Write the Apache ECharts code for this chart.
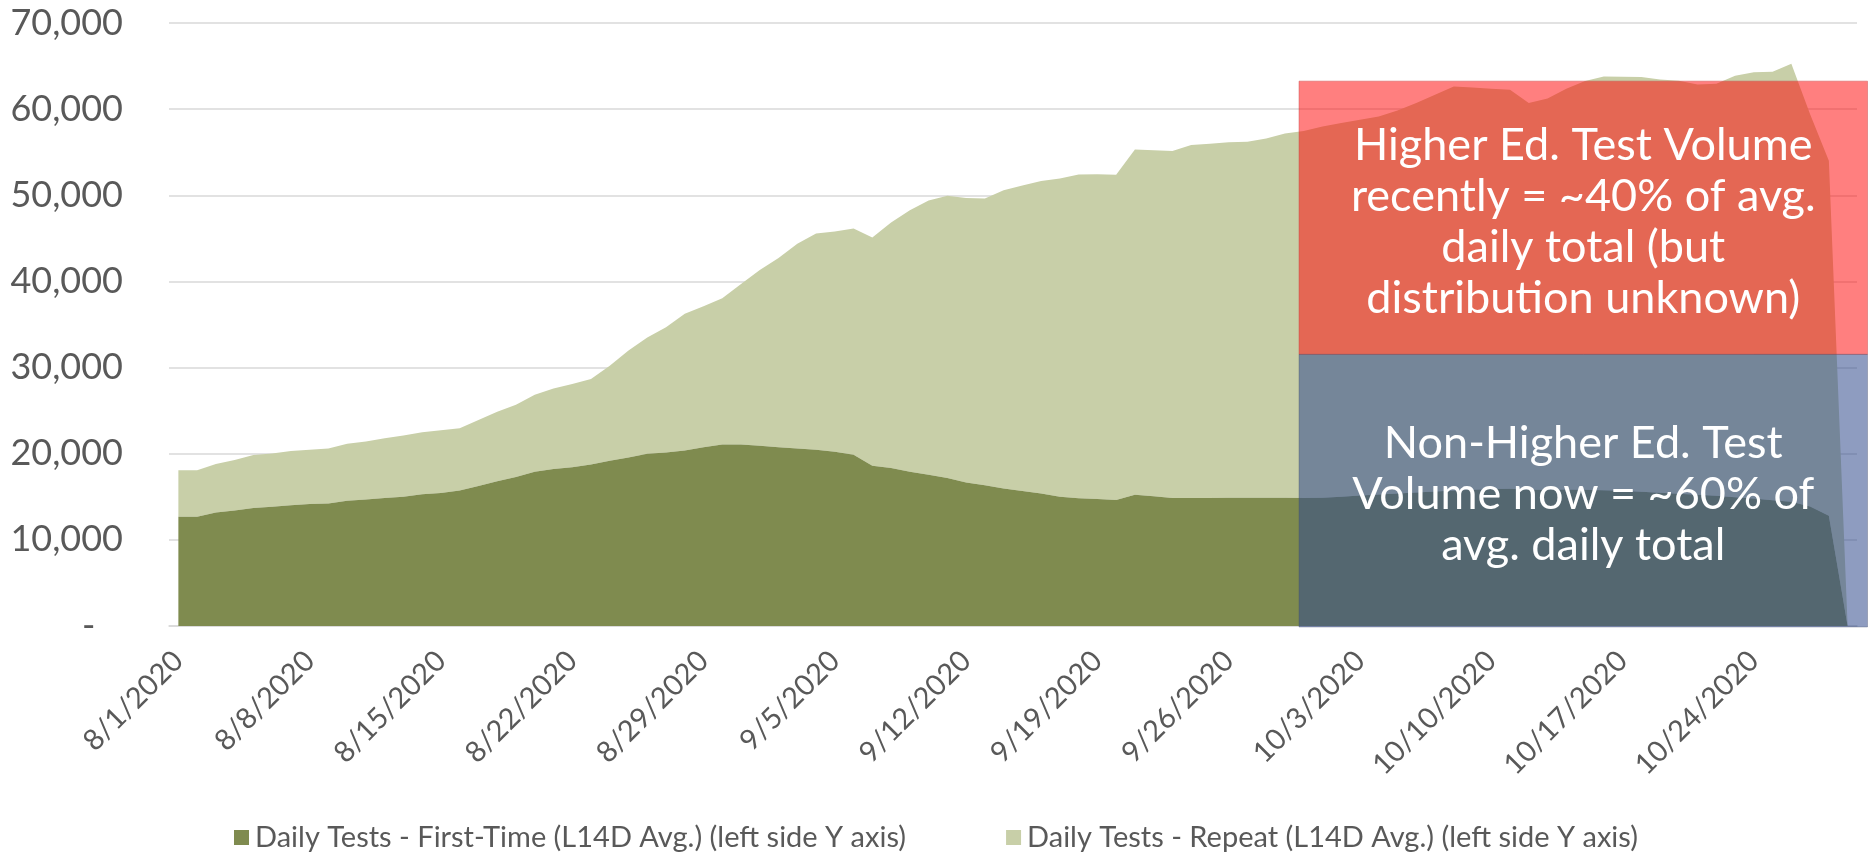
<!DOCTYPE html>
<html>
<head>
<meta charset="utf-8">
<script src="https://cdn.jsdelivr.net/npm/echarts@6/dist/echarts.min.js"></script>
<style>
  html, body { margin: 0; padding: 0; background: #ffffff; }
  #chart { width: 1873px; height: 855px; }
</style>
</head>
<body>
<div id="chart"></div>
<script>
// ---- Data ----
const categories = [
  '8/1/2020','8/2/2020','8/3/2020','8/4/2020','8/5/2020','8/6/2020','8/7/2020','8/8/2020','8/9/2020','8/10/2020',
  '8/11/2020','8/12/2020','8/13/2020','8/14/2020','8/15/2020','8/16/2020','8/17/2020','8/18/2020','8/19/2020','8/20/2020',
  '8/21/2020','8/22/2020','8/23/2020','8/24/2020','8/25/2020','8/26/2020','8/27/2020','8/28/2020','8/29/2020','8/30/2020',
  '8/31/2020','9/1/2020','9/2/2020','9/3/2020','9/4/2020','9/5/2020','9/6/2020','9/7/2020','9/8/2020','9/9/2020',
  '9/10/2020','9/11/2020','9/12/2020','9/13/2020','9/14/2020','9/15/2020','9/16/2020','9/17/2020','9/18/2020','9/19/2020',
  '9/20/2020','9/21/2020','9/22/2020','9/23/2020','9/24/2020','9/25/2020','9/26/2020','9/27/2020','9/28/2020','9/29/2020',
  '9/30/2020','10/1/2020','10/2/2020','10/3/2020','10/4/2020','10/5/2020','10/6/2020','10/7/2020','10/8/2020','10/9/2020',
  '10/10/2020','10/11/2020','10/12/2020','10/13/2020','10/14/2020','10/15/2020','10/16/2020','10/17/2020','10/18/2020','10/19/2020',
  '10/20/2020','10/21/2020','10/22/2020','10/23/2020','10/24/2020','10/25/2020','10/26/2020','10/27/2020','10/28/2020','10/29/2020'
];

const firstTime = [
  12690,12690,13170,13400,13690,13830,14020,14160,14210,14540,
  14680,14870,15010,15300,15440,15720,16240,16810,17290,17900,
  18230,18420,18760,19180,19560,19990,20130,20370,20740,21080,
  21080,20930,20740,20600,20460,20220,19890,18610,18330,17900,
  17570,17190,16670,16340,15960,15680,15390,15010,14820,14730,
  14630,15250,15060,14870,14870,14870,14900,14900,14900,14880,
  14850,14880,15000,15150,15270,15390,15500,15620,15730,15810,
  15890,15920,15810,15810,15850,15810,15770,15690,15580,15460,
  15350,15230,15110,14960,14800,14610,14420,13880,12790,0
];

const repeat = [
  5400,5400,5640,5870,6160,6200,6300,6300,6390,6630,
  6730,6920,7100,7200,7290,7250,7670,8050,8380,8950,
  9330,9660,9900,11040,12410,13500,14540,15870,16390,16960,
  18610,20410,21980,23770,25100,25570,26240,26480,28510,30360,
  31830,32770,33010,33290,34620,35470,36280,36940,37600,37700,
  37750,40070,40160,40260,40970,41110,41270,41320,41700,42280,
  42600,43110,43390,43630,43890,44440,45200,46060,46910,46710,
  46490,46330,44890,45430,46520,47450,48030,48070,48140,47990,
  47960,47640,47840,48920,49470,49730,50850,45520,41210,0
];

const seriesNames = [
  'Daily Tests - First-Time (L14D Avg.) (left side Y axis)',
  'Daily Tests - Repeat (L14D Avg.) (left side Y axis)'
];

const yTicks = [0, 10000, 20000, 30000, 40000, 50000, 60000, 70000];

// Annotation boxes (in data units: category-index span and value span)
const boxStartIndex = 59.75;
const boxEndIndex = 90.06;
const boxSplitValue = 31530;
const boxTopValue = 63250;
const upperBoxText = 'Higher Ed. Test Volume\nrecently = ~40% of avg.\ndaily total (but\ndistribution unknown)';
const lowerBoxText = 'Non-Higher Ed. Test\nVolume now = ~60% of\navg. daily total';

// ---- Chart ----
const chart = echarts.init(document.getElementById('chart'), null, { renderer: 'canvas' });
const FONT = 'Lato, "Open Sans", sans-serif';

const option = {
  animation: false,
  backgroundColor: '#ffffff',
  grid: { left: 169, right: 16, top: 23, bottom: 229, containLabel: false },
  legend: {
    data: seriesNames,
    left: 229,
    top: 818,
    itemWidth: 15,
    itemHeight: 15,
    itemGap: 100,
    icon: 'rect',
    textStyle: { fontFamily: FONT, fontSize: 29, color: '#595959', padding: [0, 0, 0, 1] }
  },
  xAxis: {
    type: 'category',
    data: categories,
    boundaryGap: true,
    axisLine: { show: true, lineStyle: { color: '#d9d9d9', width: 1.5 } },
    axisTick: { show: false },
    axisLabel: {
      interval: 6,
      rotate: 45,
      margin: 30,
      fontFamily: FONT,
      fontSize: 29,
      color: '#595959'
    },
    splitLine: { show: false }
  },
  yAxis: {
    type: 'value',
    min: yTicks[0],
    max: yTicks[yTicks.length - 1],
    interval: 10000,
    axisLine: { show: false },
    axisTick: { show: false },
    splitLine: { show: true, lineStyle: { color: '#d9d9d9', width: 1.5 } },
    axisLabel: {
      margin: 46,
      fontFamily: FONT,
      fontSize: 36,
      color: '#595959',
      formatter: function (v) {
        if (v === 0) return '-   ';
        return v.toLocaleString('en-US');
      }
    }
  },
  series: [
    {
      name: seriesNames[0],
      type: 'line',
      stack: 'tests',
      data: firstTime,
      symbol: 'none',
      lineStyle: { width: 0 },
      areaStyle: { color: '#7f8b4f', opacity: 1 },
      itemStyle: { color: '#7f8b4f' },
      z: 2
    },
    {
      name: seriesNames[1],
      type: 'line',
      stack: 'tests',
      data: repeat,
      symbol: 'none',
      lineStyle: { width: 0 },
      areaStyle: { color: '#c8cfa8', opacity: 1 },
      itemStyle: { color: '#c8cfa8' },
      z: 1
    }
  ]
};

chart.setOption(option);

// Place annotation boxes through the chart's own scales
const px0 = chart.convertToPixel({ xAxisIndex: 0 }, categories[0]);
const px1 = chart.convertToPixel({ xAxisIndex: 0 }, categories[categories.length - 1]);
const step = (px1 - px0) / (categories.length - 1);
const xL = px0 + boxStartIndex * step;
const xR = px0 + boxEndIndex * step;
const yTop = chart.convertToPixel({ yAxisIndex: 0 }, boxTopValue);
const yMid = chart.convertToPixel({ yAxisIndex: 0 }, boxSplitValue);
const yBot = chart.convertToPixel({ yAxisIndex: 0 }, 0) + 1;

chart.setOption({
  graphic: [
    {
      type: 'rect', z: 100,
      shape: { x: xL, y: yTop, width: xR - xL, height: yMid - yTop },
      style: { fill: 'rgba(255,0,0,0.5)', stroke: 'rgba(200,70,70,0.45)', lineWidth: 1 }
    },
    {
      type: 'rect', z: 100,
      shape: { x: xL, y: yMid, width: xR - xL, height: yBot - yMid },
      style: { fill: 'rgba(50,75,140,0.55)', stroke: 'rgba(70,80,110,0.35)', lineWidth: 1 }
    },
    {
      type: 'text', z: 101,
      x: (xL + xR) / 2, y: (yTop + yMid) / 2 + 4,
      style: {
        text: upperBoxText, fill: '#ffffff', align: 'center', verticalAlign: 'middle',
        fontFamily: FONT, fontSize: 45, lineHeight: 51
      }
    },
    {
      type: 'text', z: 101,
      x: (xL + xR) / 2, y: (yMid + yBot) / 2 + 4,
      style: {
        text: lowerBoxText, fill: '#ffffff', align: 'center', verticalAlign: 'middle',
        fontFamily: FONT, fontSize: 45, lineHeight: 51
      }
    }
  ]
});
</script>
</body>
</html>
